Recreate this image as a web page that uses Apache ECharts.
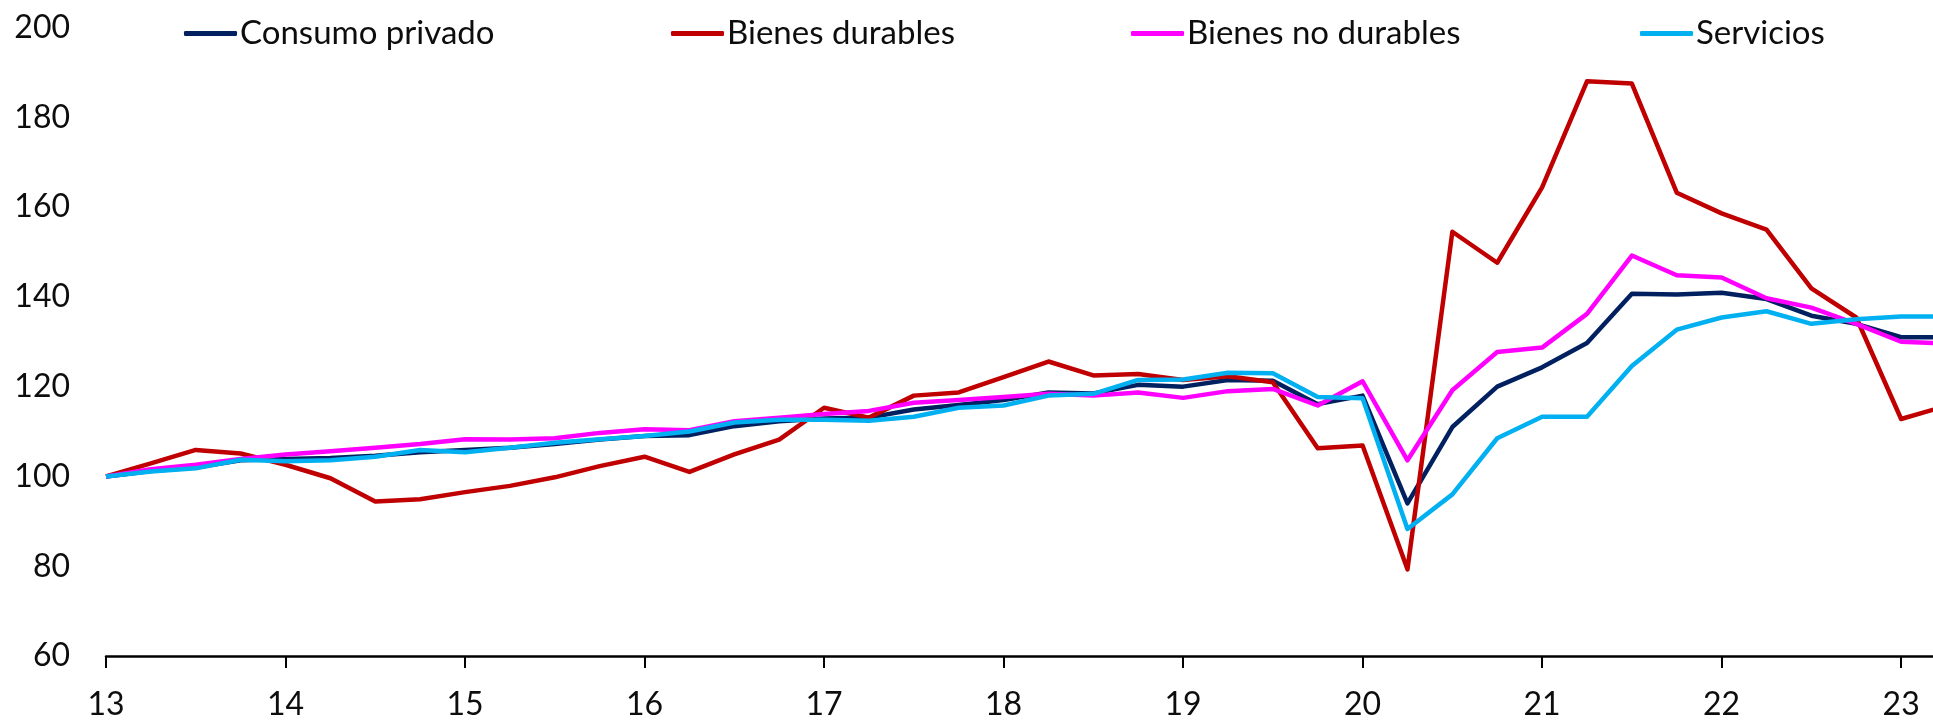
<!DOCTYPE html>
<html>
<head>
<meta charset="utf-8">
<script src="https://cdn.jsdelivr.net/npm/echarts@6/dist/echarts.min.js"></script>
<style>
html,body{margin:0;padding:0;background:#fff;}
#chart{width:1933px;height:721px;}
</style>
</head>
<body>
<div id="chart"></div>
<script>
// Quarterly index, 2013 Q1 = 100
const years = ['13','14','15','16','17','18','19','20','21','22','23'];
const quarters = ['T1','T2','T3','T4'];
const lastYearQuarters = 2; // data runs to 2023 T2

const seriesNames = ['Consumo privado','Bienes durables','Bienes no durables','Servicios'];

const consumoPrivado = [100,101.2,102.0,103.6,103.9,104.1,104.6,105.4,105.9,106.4,107.2,108.2,109.0,109.2,111.2,112.3,112.9,113.1,114.9,115.9,117.0,118.7,118.5,120.4,120.0,121.5,121.3,116.1,118.0,94.0,111.0,120.0,124.3,129.7,140.7,140.5,140.9,139.5,135.8,134.0,131.0,131.0];
const bienesDurables = [100,102.9,105.9,105.1,102.6,99.6,94.4,94.9,96.5,97.9,99.8,102.3,104.4,101.0,104.9,108.2,115.3,113.1,118.0,118.7,122.1,125.6,122.5,122.8,121.5,122.3,121.0,106.3,106.9,79.3,154.5,147.6,164.4,188.0,187.5,163.2,158.6,155.0,141.9,135.4,112.8,115.7];
const bienesNoDurables = [100,101.6,102.6,103.9,104.9,105.6,106.4,107.2,108.3,108.2,108.5,109.7,110.5,110.3,112.3,113.1,113.9,114.6,116.4,117.0,117.7,118.4,118.0,118.7,117.5,119.0,119.5,115.8,121.2,103.6,119.2,127.7,128.7,136.2,149.2,144.8,144.3,139.7,137.6,134.0,130.0,129.6];
const servicios = [100,101.1,101.8,103.7,103.4,103.6,104.4,105.9,105.4,106.4,107.5,108.3,109.0,110.0,112.0,112.6,112.6,112.4,113.3,115.3,115.8,118.0,118.4,121.5,121.6,123.1,123.0,117.7,117.4,88.3,96.0,108.5,113.3,113.3,124.6,132.7,135.4,136.8,134.0,135.0,135.6,135.6];

const yMin = 60, yMax = 200, yStep = 20;

// quarterly categories built from the year labels
const categories = [];
years.forEach((y, yi) => {
  const nq = (yi === years.length - 1) ? lastYearQuarters : 4;
  for (let q = 0; q < nq; q++) categories.push(y + ' ' + quarters[q]);
});

// visible window of the quarter axis (the last quarter is cut by the frame)
const xMin = 0, xMax = 40.71, xStep = 4;

const colors = ['#002060','#C00000','#FF00FF','#00B0F0'];
const dataSets = [consumoPrivado, bienesDurables, bienesNoDurables, servicios];
const legendLefts = [179, 666, 1126, 1635];

const FONT = 'Lato, "Open Sans", "Noto Sans", sans-serif';
const chart = echarts.init(document.getElementById('chart'), null, {renderer:'canvas'});

const option = {
  backgroundColor: '#ffffff',
  animation: false,
  grid: { left: 106, right: 0, top: 27.5, bottom: 64, containLabel: false },
  legend: seriesNames.map((n, i) => ({
    data: [n],
    left: legendLefts[i],
    top: 12,
    icon: 'roundRect',
    itemWidth: 53,
    itemHeight: 5,
    itemGap: 0,
    textStyle: { fontFamily: FONT, fontSize: 33, color: '#0d0d0d', padding: [0,0,0,-2] }
  })),
  xAxis: {
    type: 'value',
    min: xMin, max: xMax, interval: xStep,
    axisLine: { show: true, lineStyle: { color: '#000', width: 2.5 } },
    axisTick: { show: true, length: 12, lineStyle: { color: '#000', width: 2 } },
    axisLabel: {
      margin: 33,
      showMaxLabel: false,
      fontFamily: FONT, fontSize: 32, color: '#0d0d0d',
      formatter: v => { const c = categories[Math.round(v)]; return (c && Math.round(v) % 4 === 0) ? c.split(' ')[0] : ''; }
    },
    splitLine: { show: false }
  },
  yAxis: {
    type: 'value',
    min: yMin, max: yMax, interval: yStep,
    axisLine: { show: false },
    axisTick: { show: false },
    splitLine: { show: false },
    axisLabel: { margin: 36, fontFamily: FONT, fontSize: 32, color: '#0d0d0d' }
  },
  series: seriesNames.map((n, i) => ({
    name: n,
    type: 'line',
    data: dataSets[i].map((v, k) => [k, v]),
    showSymbol: false,
    symbol: 'none',
    clip: true,
    color: colors[i],
    lineStyle: { width: 4.5, color: colors[i], join: 'round' },
    z: 2 + i
  }))
};
chart.setOption(option);
</script>
</body>
</html>
